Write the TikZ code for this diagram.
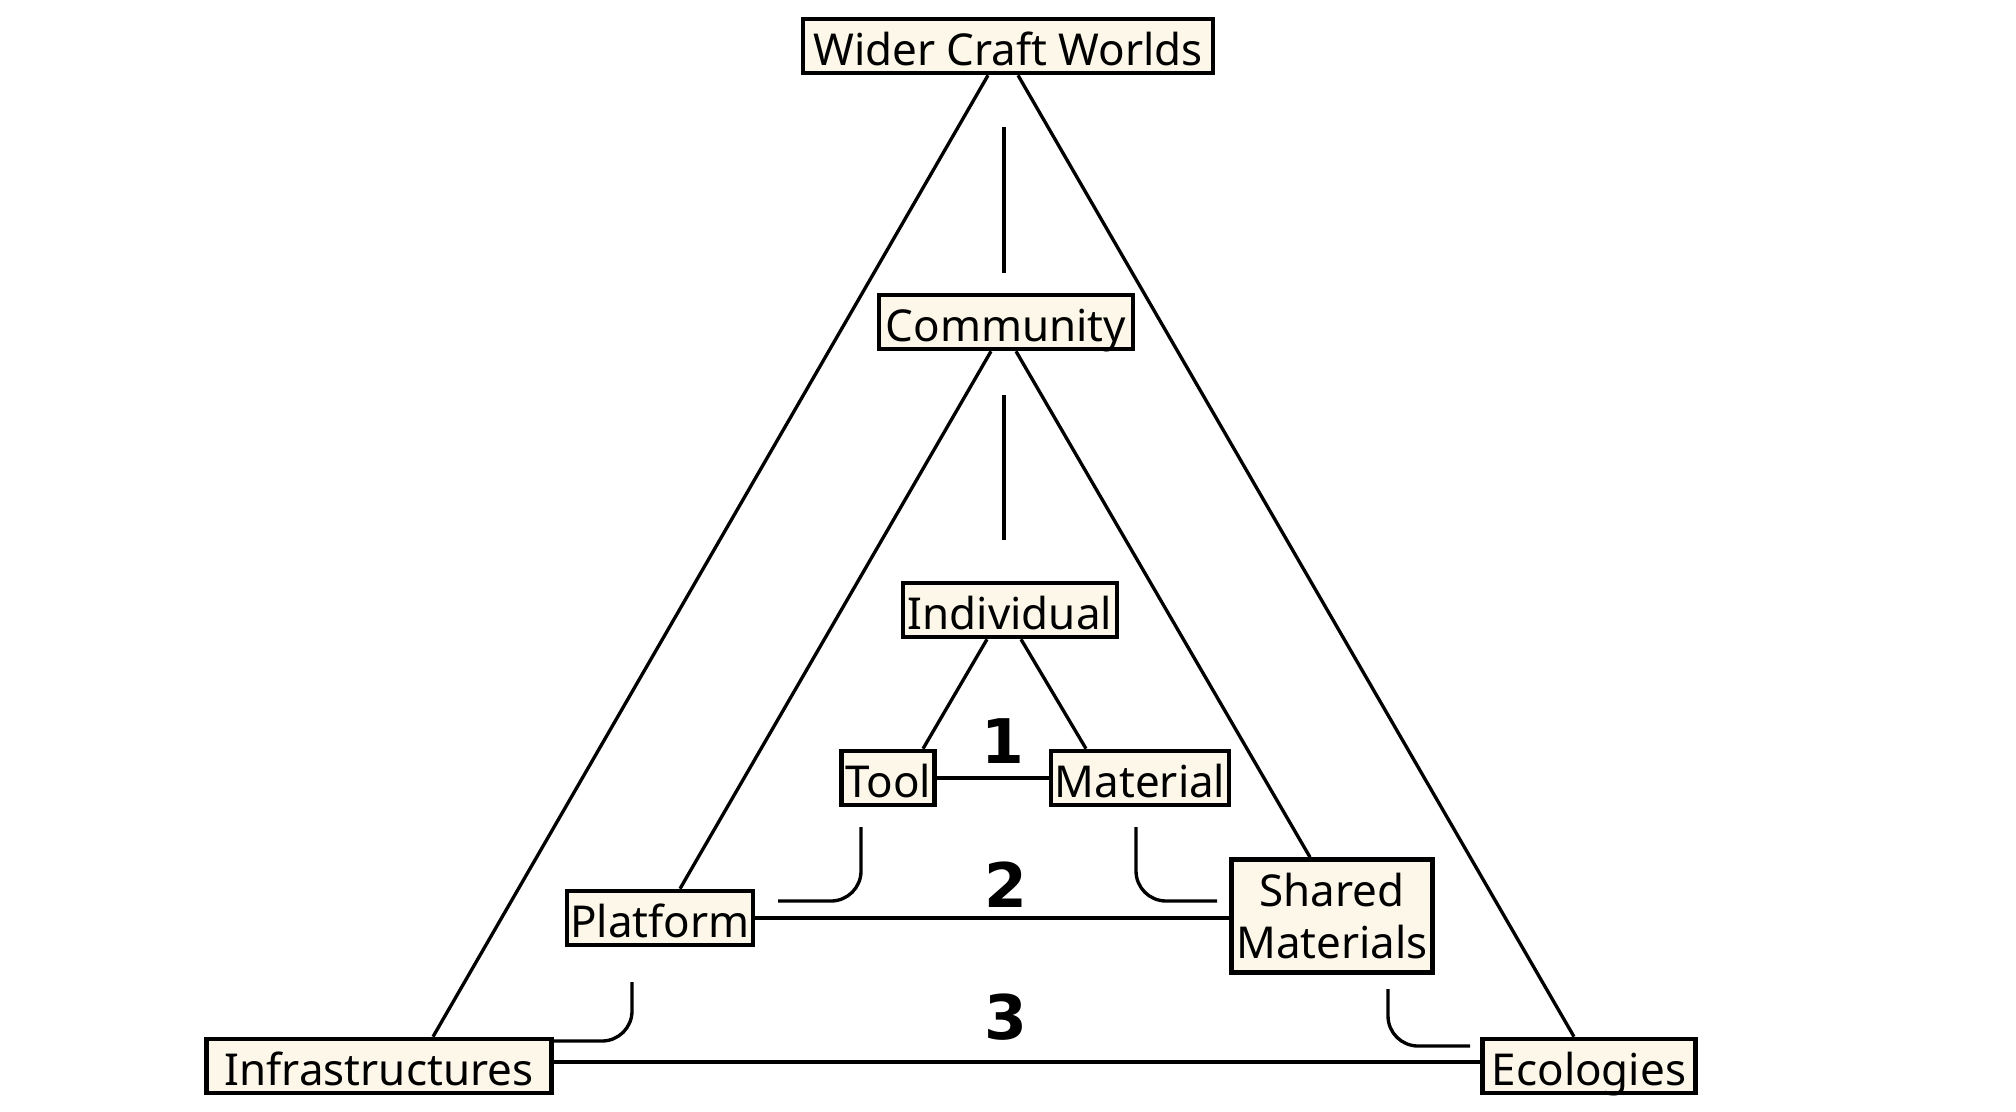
\documentclass[tikz,border=0pt]{standalone}
\usepackage{fontspec}
\setmainfont{Noto Sans}
\newfontfamily\levelfont{DejaVu Sans}
\usetikzlibrary{calc}
\definecolor{cream}{RGB}{253,247,233}

\begin{document}
\begin{tikzpicture}[
  boxbase/.style={draw=black, line width=1.3pt, fill=cream, inner sep=1pt,
    align=center, font=\fontsize{12.5}{14.8}\selectfont},
  box/.style={boxbase, minimum height=0.54cm, text height=0.41cm, text depth=0.02cm},
  link/.style={line width=0.95pt},
  level/.style={font=\levelfont\fontsize{17.5}{20}\selectfont\bfseries}]

\useasboundingbox (0,0) rectangle (20.16,-11.12);

%BOXES
\node [box, minimum width=4.10cm] (wcw)    at (10.08,-0.46)  {Wider Craft Worlds};
\node [box, minimum width=2.54cm] (comm)   at (10.06,-3.22)  {Community};
\node [box, minimum width=2.14cm] (indiv)  at (10.10,-6.10)  {Individual};
\node [box, minimum width=0.90cm] (tool)   at (8.88,-7.78)   {Tool};
\node [box, minimum width=1.78cm] (mat)    at (11.40,-7.78)  {Material};
\node [box, minimum width=1.86cm] (plat)   at (6.60,-9.18)   {Platform};
\node [boxbase, minimum width=2.01cm, minimum height=1.13cm] (shared) at (13.32,-9.16) {Shared\\Materials};
\node [box, minimum width=3.45cm] (infra)  at (3.79,-10.66)  {Infrastructures};
\node [box, minimum width=2.13cm] (eco)    at (15.89,-10.66) {Ecologies};

%Outer Triangle
\draw [link] ($(wcw.south)+(-0.20,0)$) -- ($(infra.north)+(0.54,0)$);
\draw [link] ($(wcw.south)+(0.10,0)$) -- ($(eco.north)+(-0.15,0)$);
\draw [link] ($(infra.east)+(0,0.04)$) -- ($(infra.east -| eco.west)+(0,0.04)$);

%Middle Triangle
\draw [link] ($(comm.south)+(-0.15,0)$) -- ($(plat.north)+(0.20,0)$);
\draw [link] ($(comm.south)+(0.10,0)$) -- ($(shared.north)+(-0.22,0)$);
\draw [link] (plat.east) -- (plat.east -| shared.west);

%Inner Triangle
\draw [link] ($(indiv.south)+(-0.23,0)$) -- ($(tool.north)+(0.35,0)$);
\draw [link] ($(indiv.south)+(0.11,0)$) -- ($(mat.north)+(-0.54,0)$);
\draw [link] (tool.east) -- (mat.west);

%Vertical Lines
\draw [link] (10.04,-1.27) -- (10.04,-2.73);
\draw [link] (10.04,-3.95) -- (10.04,-5.40);

%Hooks
\draw [link, rounded corners=0.3cm] (8.61,-8.27) |- (7.78,-9.01);
\draw [link, rounded corners=0.3cm] (11.36,-8.27) |- (12.17,-9.01);
\draw [link, rounded corners=0.3cm] (6.32,-9.82) |- (5.505,-10.41);
\draw [link, rounded corners=0.3cm] (13.88,-9.89) |- (14.70,-10.46);

%Labels
\foreach \x/\y/\n in {10.03/-7.41/1, 10.06/-8.85/2, 10.06/-10.17/3}
  \node [level] (lvl\n) at (\x,\y) {\n};

\end{tikzpicture}
\end{document}
